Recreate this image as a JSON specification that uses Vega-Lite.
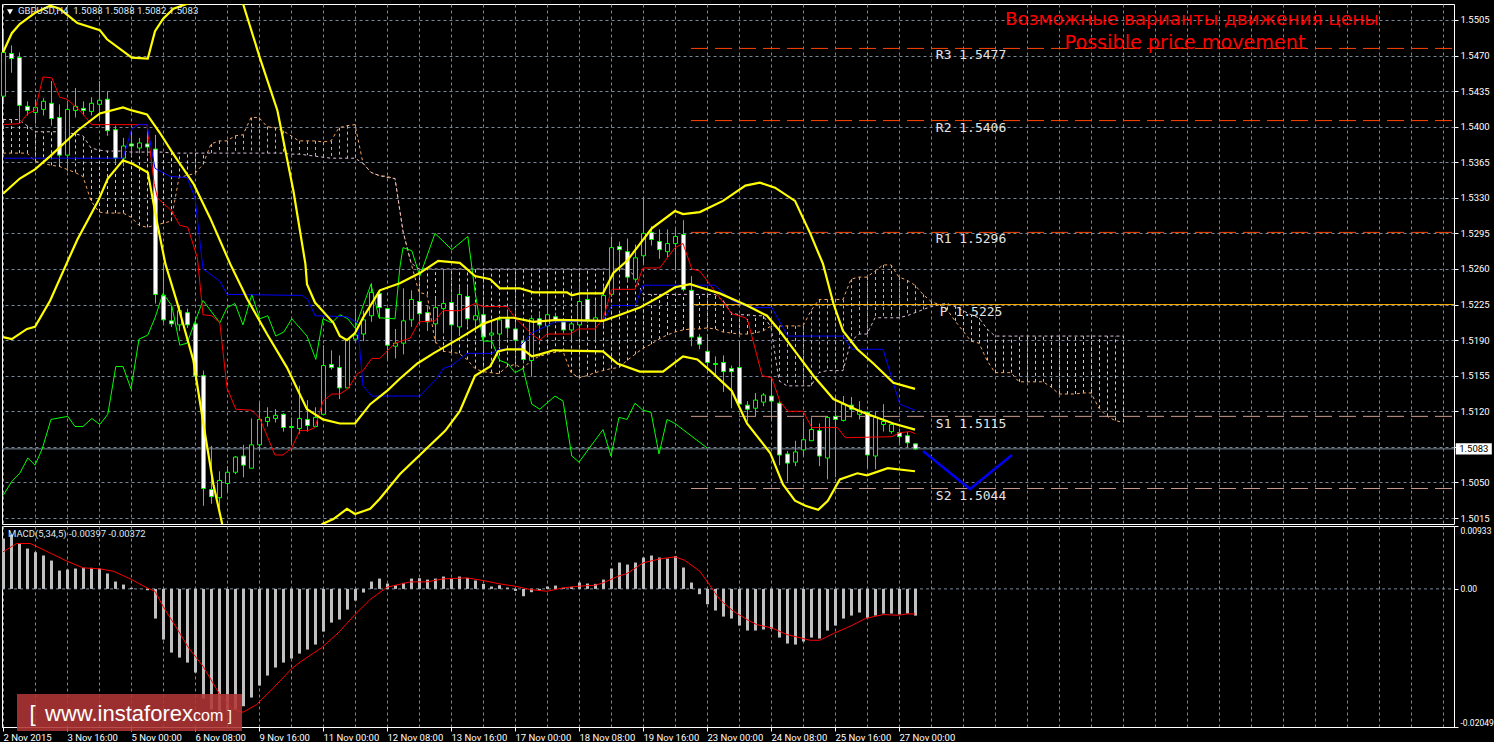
{"$schema":"https://vega.github.io/schema/vega-lite/v6.json","background":"#000000","padding":{"left":0,"top":3,"right":0,"bottom":0},"spacing":0,
"config":{"view":{"stroke":"#ffffff","strokeWidth":1},"axis":{"labelFont":"Roboto","labelFontSize":9.5,"labelColor":"#ffffff","tickColor":"#ffffff","domainColor":"#ffffff","gridColor":"#778899","gridDash":[3,3],"gridWidth":1,"gridOpacity":1,"title":null}},
"datasets":{
"candles":[
{"bar":0,"open":1.5430,"high":1.5496,"low":1.5422,"close":1.5473},{"bar":1,"open":1.5472,"high":1.5480,"low":1.5453,"close":1.5467},{"bar":2,"open":1.5468,"high":1.5473,"low":1.5404,"close":1.5421},{"bar":3,"open":1.5420,"high":1.5425,"low":1.5411,"close":1.5416},{"bar":4,"open":1.5414,"high":1.5427,"low":1.5403,"close":1.5419},{"bar":5,"open":1.5417,"high":1.5428,"low":1.5411,"close":1.5425},{"bar":6,"open":1.5423,"high":1.5445,"low":1.5401,"close":1.5408},{"bar":7,"open":1.5409,"high":1.5422,"low":1.5363,"close":1.5372},{"bar":8,"open":1.5372,"high":1.5423,"low":1.5356,"close":1.5417},{"bar":9,"open":1.5416,"high":1.5438,"low":1.5409,"close":1.5420},
{"bar":10,"open":1.5418,"high":1.5425,"low":1.5411,"close":1.5416},{"bar":11,"open":1.5415,"high":1.5429,"low":1.5411,"close":1.5423},{"bar":12,"open":1.5422,"high":1.5445,"low":1.5406,"close":1.5426},{"bar":13,"open":1.5427,"high":1.5435,"low":1.5391,"close":1.5396},{"bar":14,"open":1.5397,"high":1.5401,"low":1.5363,"close":1.5369},{"bar":15,"open":1.5369,"high":1.5389,"low":1.5361,"close":1.5381},{"bar":16,"open":1.5383,"high":1.5396,"low":1.5371,"close":1.5381},{"bar":17,"open":1.5379,"high":1.5389,"low":1.5374,"close":1.5384},{"bar":18,"open":1.5383,"high":1.5396,"low":1.5371,"close":1.5380},{"bar":19,"open":1.5378,"high":1.5392,"low":1.5226,"close":1.5235},
{"bar":20,"open":1.5234,"high":1.5266,"low":1.5207,"close":1.5210},{"bar":21,"open":1.5209,"high":1.5224,"low":1.5203,"close":1.5206},{"bar":22,"open":1.5205,"high":1.5224,"low":1.5199,"close":1.5219},{"bar":23,"open":1.5217,"high":1.5221,"low":1.5202,"close":1.5205},{"bar":24,"open":1.5206,"high":1.5211,"low":1.5150,"close":1.5155},{"bar":25,"open":1.5155,"high":1.5160,"low":1.5027,"close":1.5044},{"bar":26,"open":1.5043,"high":1.5086,"low":1.5029,"close":1.5036},{"bar":27,"open":1.5035,"high":1.5061,"low":1.5025,"close":1.5052},{"bar":28,"open":1.5049,"high":1.5066,"low":1.5040,"close":1.5060},{"bar":29,"open":1.5060,"high":1.5076,"low":1.5058,"close":1.5075},
{"bar":30,"open":1.5076,"high":1.5087,"low":1.5055,"close":1.5067},{"bar":31,"open":1.5064,"high":1.5113,"low":1.5064,"close":1.5087},{"bar":32,"open":1.5087,"high":1.5128,"low":1.5082,"close":1.5112},{"bar":33,"open":1.5110,"high":1.5124,"low":1.5105,"close":1.5114},{"bar":34,"open":1.5113,"high":1.5122,"low":1.5109,"close":1.5116},{"bar":35,"open":1.5117,"high":1.5118,"low":1.5100,"close":1.5104},{"bar":36,"open":1.5105,"high":1.5114,"low":1.5089,"close":1.5104},{"bar":37,"open":1.5103,"high":1.5145,"low":1.5098,"close":1.5113},{"bar":38,"open":1.5112,"high":1.5131,"low":1.5100,"close":1.5106},{"bar":39,"open":1.5105,"high":1.5124,"low":1.5105,"close":1.5114},
{"bar":40,"open":1.5117,"high":1.5185,"low":1.5117,"close":1.5165},{"bar":41,"open":1.5166,"high":1.5180,"low":1.5161,"close":1.5163},{"bar":42,"open":1.5163,"high":1.5175,"low":1.5132,"close":1.5143},{"bar":43,"open":1.5143,"high":1.5191,"low":1.5143,"close":1.5191},{"bar":44,"open":1.5191,"high":1.5221,"low":1.5189,"close":1.5195},{"bar":45,"open":1.5196,"high":1.5219,"low":1.5189,"close":1.5210},{"bar":46,"open":1.5214,"high":1.5246,"low":1.5208,"close":1.5237},{"bar":47,"open":1.5236,"high":1.5239,"low":1.5211,"close":1.5222},{"bar":48,"open":1.5221,"high":1.5221,"low":1.5171,"close":1.5185},{"bar":49,"open":1.5184,"high":1.5201,"low":1.5172,"close":1.5187},
{"bar":50,"open":1.5187,"high":1.5241,"low":1.5176,"close":1.5209},{"bar":51,"open":1.5210,"high":1.5239,"low":1.5203,"close":1.5230},{"bar":52,"open":1.5228,"high":1.5239,"low":1.5207,"close":1.5216},{"bar":53,"open":1.5217,"high":1.5224,"low":1.5199,"close":1.5208},{"bar":54,"open":1.5206,"high":1.5231,"low":1.5187,"close":1.5222},{"bar":55,"open":1.5221,"high":1.5260,"low":1.5197,"close":1.5226},{"bar":56,"open":1.5227,"high":1.5235,"low":1.5189,"close":1.5205},{"bar":57,"open":1.5203,"high":1.5243,"low":1.5194,"close":1.5235},{"bar":58,"open":1.5233,"high":1.5243,"low":1.5204,"close":1.5211},{"bar":59,"open":1.5210,"high":1.5224,"low":1.5199,"close":1.5214},
{"bar":60,"open":1.5215,"high":1.5229,"low":1.5179,"close":1.5193},{"bar":61,"open":1.5195,"high":1.5207,"low":1.5184,"close":1.5197},{"bar":62,"open":1.5196,"high":1.5214,"low":1.5184,"close":1.5210},{"bar":63,"open":1.5211,"high":1.5219,"low":1.5192,"close":1.5202},{"bar":64,"open":1.5201,"high":1.5207,"low":1.5184,"close":1.5190},{"bar":65,"open":1.5189,"high":1.5192,"low":1.5167,"close":1.5171},{"bar":66,"open":1.5170,"high":1.5214,"low":1.5154,"close":1.5211},{"bar":67,"open":1.5211,"high":1.5217,"low":1.5197,"close":1.5205},{"bar":68,"open":1.5204,"high":1.5236,"low":1.5194,"close":1.5215},{"bar":69,"open":1.5213,"high":1.5217,"low":1.5207,"close":1.5210},
{"bar":70,"open":1.5208,"high":1.5211,"low":1.5197,"close":1.5200},{"bar":71,"open":1.5200,"high":1.5211,"low":1.5189,"close":1.5206},{"bar":72,"open":1.5205,"high":1.5246,"low":1.5194,"close":1.5228},{"bar":73,"open":1.5230,"high":1.5235,"low":1.5207,"close":1.5210},{"bar":74,"open":1.5209,"high":1.5229,"low":1.5189,"close":1.5212},{"bar":75,"open":1.5210,"high":1.5243,"low":1.5204,"close":1.5234},{"bar":76,"open":1.5235,"high":1.5292,"low":1.5233,"close":1.5281},{"bar":77,"open":1.5282,"high":1.5287,"low":1.5263,"close":1.5279},{"bar":78,"open":1.5277,"high":1.5290,"low":1.5248,"close":1.5252},{"bar":79,"open":1.5250,"high":1.5284,"low":1.5247,"close":1.5271},
{"bar":80,"open":1.5273,"high":1.5331,"low":1.5265,"close":1.5295},{"bar":81,"open":1.5296,"high":1.5302,"low":1.5283,"close":1.5289},{"bar":82,"open":1.5287,"high":1.5299,"low":1.5270,"close":1.5279},{"bar":83,"open":1.5277,"high":1.5299,"low":1.5271,"close":1.5285},{"bar":84,"open":1.5285,"high":1.5299,"low":1.5260,"close":1.5292},{"bar":85,"open":1.5294,"high":1.5308,"low":1.5238,"close":1.5240},{"bar":86,"open":1.5239,"high":1.5253,"low":1.5184,"close":1.5193},{"bar":87,"open":1.5193,"high":1.5196,"low":1.5181,"close":1.5186},{"bar":88,"open":1.5179,"high":1.5196,"low":1.5160,"close":1.5168},{"bar":89,"open":1.5167,"high":1.5174,"low":1.5155,"close":1.5166},
{"bar":90,"open":1.5168,"high":1.5175,"low":1.5139,"close":1.5159},{"bar":91,"open":1.5162,"high":1.5165,"low":1.5123,"close":1.5159},{"bar":92,"open":1.5163,"high":1.5189,"low":1.5127,"close":1.5127},{"bar":93,"open":1.5126,"high":1.5130,"low":1.5110,"close":1.5122},{"bar":94,"open":1.5123,"high":1.5138,"low":1.5115,"close":1.5131},{"bar":95,"open":1.5129,"high":1.5138,"low":1.5125,"close":1.5136},{"bar":96,"open":1.5135,"high":1.5152,"low":1.5112,"close":1.5130},{"bar":97,"open":1.5128,"high":1.5130,"low":1.5067,"close":1.5077},{"bar":98,"open":1.5078,"high":1.5081,"low":1.5051,"close":1.5069},{"bar":99,"open":1.5070,"high":1.5091,"low":1.5066,"close":1.5080},
{"bar":100,"open":1.5082,"high":1.5110,"low":1.5076,"close":1.5092},{"bar":101,"open":1.5091,"high":1.5114,"low":1.5091,"close":1.5102},{"bar":102,"open":1.5101,"high":1.5108,"low":1.5066,"close":1.5076},{"bar":103,"open":1.5074,"high":1.5115,"low":1.5053,"close":1.5114},{"bar":104,"open":1.5115,"high":1.5135,"low":1.5055,"close":1.5112},{"bar":105,"open":1.5111,"high":1.5135,"low":1.5110,"close":1.5127},{"bar":106,"open":1.5126,"high":1.5134,"low":1.5114,"close":1.5122},{"bar":107,"open":1.5117,"high":1.5130,"low":1.5112,"close":1.5121},{"bar":108,"open":1.5119,"high":1.5120,"low":1.5064,"close":1.5077},{"bar":109,"open":1.5076,"high":1.5120,"low":1.5063,"close":1.5114},
{"bar":110,"open":1.5107,"high":1.5127,"low":1.5100,"close":1.5110},{"bar":111,"open":1.5100,"high":1.5109,"low":1.5098,"close":1.5107},{"bar":112,"open":1.5099,"high":1.5103,"low":1.5089,"close":1.5095},{"bar":113,"open":1.5096,"high":1.5100,"low":1.5084,"close":1.5089},{"bar":114,"open":1.5088,"high":1.5088,"low":1.5082,"close":1.5083}
],
"cloud":[
{"bar":0,"a":1.5374,"b":1.5407},{"bar":1,"a":1.5374,"b":1.5407},{"bar":2,"a":1.5374,"b":1.5407},{"bar":3,"a":1.5374,"b":1.5401},{"bar":4,"a":1.5366,"b":1.5395},{"bar":5,"a":1.5364,"b":1.5395},{"bar":6,"a":1.5362,"b":1.5395},{"bar":7,"a":1.5361,"b":1.5395},{"bar":8,"a":1.5358,"b":1.5394},{"bar":9,"a":1.5355,"b":1.5393},{"bar":10,"a":1.5351,"b":1.5391},{"bar":11,"a":1.5327,"b":1.5379},{"bar":12,"a":1.5316,"b":1.5377},{"bar":13,"a":1.5315,"b":1.5376},{"bar":14,"a":1.5315,"b":1.5376},{"bar":15,"a":1.5315,"b":1.5376},{"bar":16,"a":1.5311,"b":1.5375},{"bar":17,"a":1.5303,"b":1.5375},{"bar":18,"a":1.5301,"b":1.5375},{"bar":19,"a":1.5303,"b":1.5375},{"bar":20,"a":1.5305,"b":1.5375},{"bar":21,"a":1.5307,"b":1.5374},{"bar":22,"a":1.5350,"b":1.5374},{"bar":23,"a":1.5352,"b":1.5374},{"bar":24,"a":1.5354,"b":1.5374},{"bar":25,"a":1.5363,"b":1.5374},{"bar":26,"a":1.5383,"b":1.5374},{"bar":27,"a":1.5386,"b":1.5374},{"bar":28,"a":1.5386,"b":1.5374},{"bar":29,"a":1.5391,"b":1.5374},{"bar":30,"a":1.5392,"b":1.5374},{"bar":31,"a":1.5409,"b":1.5374},{"bar":32,"a":1.5409,"b":1.5374},{"bar":33,"a":1.5400,"b":1.5374},{"bar":34,"a":1.5399,"b":1.5374},{"bar":35,"a":1.5396,"b":1.5374},{"bar":36,"a":1.5391,"b":1.5373},{"bar":37,"a":1.5386,"b":1.5373},{"bar":38,"a":1.5386,"b":1.5372},{"bar":39,"a":1.5386,"b":1.5371},{"bar":40,"a":1.5385,"b":1.5370},{"bar":41,"a":1.5386,"b":1.5369},{"bar":42,"a":1.5399,"b":1.5369},{"bar":43,"a":1.5401,"b":1.5369},{"bar":44,"a":1.5402,"b":1.5369},{"bar":45,"a":1.5364,"b":1.5364},{"bar":46,"a":1.5355,"b":1.5355},{"bar":47,"a":1.5352,"b":1.5352},{"bar":48,"a":1.5351,"b":1.5350},{"bar":49,"a":1.5349,"b":1.5349},{"bar":50,"a":1.5297,"b":1.5297},{"bar":51,"a":1.5266,"b":1.5266},{"bar":52,"a":1.5237,"b":1.5260},{"bar":53,"a":1.5235,"b":1.5260},{"bar":54,"a":1.5189,"b":1.5260},{"bar":55,"a":1.5179,"b":1.5260},{"bar":56,"a":1.5178,"b":1.5260},{"bar":57,"a":1.5177,"b":1.5260},{"bar":58,"a":1.5171,"b":1.5260},{"bar":59,"a":1.5162,"b":1.5260},{"bar":60,"a":1.5159,"b":1.5260},{"bar":61,"a":1.5158,"b":1.5260},{"bar":62,"a":1.5157,"b":1.5260},{"bar":63,"a":1.5164,"b":1.5260},{"bar":64,"a":1.5166,"b":1.5260},{"bar":65,"a":1.5162,"b":1.5260},{"bar":66,"a":1.5170,"b":1.5260},{"bar":67,"a":1.5174,"b":1.5260},{"bar":68,"a":1.5176,"b":1.5260},{"bar":69,"a":1.5178,"b":1.5260},{"bar":70,"a":1.5179,"b":1.5260},{"bar":71,"a":1.5158,"b":1.5260},{"bar":72,"a":1.5153,"b":1.5260},{"bar":73,"a":1.5155,"b":1.5260},{"bar":74,"a":1.5158,"b":1.5260},{"bar":75,"a":1.5160,"b":1.5260},{"bar":76,"a":1.5162,"b":1.5260},{"bar":77,"a":1.5163,"b":1.5260},{"bar":78,"a":1.5170,"b":1.5260},{"bar":79,"a":1.5176,"b":1.5253},{"bar":80,"a":1.5182,"b":1.5235},{"bar":81,"a":1.5186,"b":1.5235},{"bar":82,"a":1.5191,"b":1.5235},{"bar":83,"a":1.5195,"b":1.5235},{"bar":84,"a":1.5198,"b":1.5235},{"bar":85,"a":1.5200,"b":1.5235},{"bar":86,"a":1.5201,"b":1.5235},{"bar":87,"a":1.5201,"b":1.5235},{"bar":88,"a":1.5202,"b":1.5235},{"bar":89,"a":1.5201,"b":1.5235},{"bar":90,"a":1.5198,"b":1.5229},{"bar":91,"a":1.5197,"b":1.5217},{"bar":92,"a":1.5196,"b":1.5215},{"bar":93,"a":1.5196,"b":1.5215},{"bar":94,"a":1.5197,"b":1.5214},{"bar":95,"a":1.5199,"b":1.5214},{"bar":96,"a":1.5204,"b":1.5203},{"bar":97,"a":1.5204,"b":1.5150},{"bar":98,"a":1.5204,"b":1.5145},{"bar":99,"a":1.5204,"b":1.5145},{"bar":100,"a":1.5204,"b":1.5145},{"bar":101,"a":1.5219,"b":1.5145},{"bar":102,"a":1.5230,"b":1.5158},{"bar":103,"a":1.5230,"b":1.5160},{"bar":104,"a":1.5230,"b":1.5160},{"bar":105,"a":1.5230,"b":1.5160},{"bar":106,"a":1.5250,"b":1.5189},{"bar":107,"a":1.5252,"b":1.5196},{"bar":108,"a":1.5252,"b":1.5196},{"bar":109,"a":1.5258,"b":1.5212},{"bar":110,"a":1.5264,"b":1.5212},{"bar":111,"a":1.5264,"b":1.5212},{"bar":112,"a":1.5252,"b":1.5212},{"bar":113,"a":1.5249,"b":1.5214},{"bar":114,"a":1.5244,"b":1.5217},{"bar":115,"a":1.5235,"b":1.5220},{"bar":116,"a":1.5228,"b":1.5223},{"bar":117,"a":1.5225,"b":1.5225},{"bar":118,"a":1.5220,"b":1.5226},{"bar":119,"a":1.5209,"b":1.5223},{"bar":120,"a":1.5199,"b":1.5219},{"bar":121,"a":1.5189,"b":1.5215},{"bar":122,"a":1.5187,"b":1.5212},{"bar":123,"a":1.5170,"b":1.5201},{"bar":124,"a":1.5158,"b":1.5194},{"bar":125,"a":1.5158,"b":1.5194},{"bar":126,"a":1.5158,"b":1.5194},{"bar":127,"a":1.5149,"b":1.5194},{"bar":128,"a":1.5149,"b":1.5194},{"bar":129,"a":1.5149,"b":1.5194},{"bar":130,"a":1.5149,"b":1.5194},{"bar":131,"a":1.5144,"b":1.5194},{"bar":132,"a":1.5137,"b":1.5194},{"bar":133,"a":1.5137,"b":1.5194},{"bar":134,"a":1.5137,"b":1.5194},{"bar":135,"a":1.5138,"b":1.5194},{"bar":136,"a":1.5138,"b":1.5194},{"bar":137,"a":1.5123,"b":1.5194},{"bar":138,"a":1.5115,"b":1.5194},{"bar":139,"a":1.5111,"b":1.5194},{"bar":140,"a":1.5109,"b":1.5194}
],
"upper":[{"bar":0,"price":1.5473},{"bar":1.1,"price":1.5492},{"bar":2.1,"price":1.5501},{"bar":4,"price":1.5512},{"bar":5.9,"price":1.5519},{"bar":7.1,"price":1.5516},{"bar":9.3,"price":1.5502},{"bar":12.1,"price":1.5495},{"bar":13,"price":1.5486},{"bar":16.1,"price":1.5468},{"bar":18.1,"price":1.5467},{"bar":19,"price":1.5494},{"bar":20,"price":1.5506},{"bar":21.3,"price":1.5516},{"bar":23.1,"price":1.5521},{"bar":26.5,"price":1.5563},{"bar":30,"price":1.5521},{"bar":32.1,"price":1.5468},{"bar":34.3,"price":1.5416},{"bar":36.3,"price":1.5337},{"bar":37.8,"price":1.5265},{"bar":38,"price":1.5245},{"bar":39,"price":1.5227},{"bar":41.3,"price":1.5207},{"bar":42.1,"price":1.5194},{"bar":43,"price":1.5190},{"bar":44,"price":1.5197},{"bar":45,"price":1.5212},{"bar":47.1,"price":1.5239},{"bar":49.6,"price":1.5246},{"bar":52.1,"price":1.5256},{"bar":54.4,"price":1.5268},{"bar":57.1,"price":1.5266},{"bar":59,"price":1.5253},{"bar":60.9,"price":1.5250},{"bar":62.1,"price":1.5241},{"bar":64.6,"price":1.5241},{"bar":66.3,"price":1.5237},{"bar":70.5,"price":1.5237},{"bar":71.1,"price":1.5234},{"bar":72.1,"price":1.5236},{"bar":75,"price":1.5236},{"bar":76.3,"price":1.5256},{"bar":78,"price":1.5268},{"bar":81.1,"price":1.5300},{"bar":84,"price":1.5317},{"bar":85,"price":1.5314},{"bar":87.1,"price":1.5316},{"bar":90,"price":1.5327},{"bar":92.8,"price":1.5342},{"bar":94.6,"price":1.5345},{"bar":96.5,"price":1.5340},{"bar":99,"price":1.5327},{"bar":100.9,"price":1.5295},{"bar":102.5,"price":1.5265},{"bar":103.8,"price":1.5226},{"bar":105,"price":1.5199},{"bar":106.8,"price":1.5181},{"bar":108.8,"price":1.5167},{"bar":111.3,"price":1.5148},{"bar":114,"price":1.5142}],
"middle":[{"bar":0,"price":1.5334},{"bar":2.1,"price":1.5349},{"bar":4,"price":1.5358},{"bar":5.9,"price":1.5371},{"bar":9.3,"price":1.5396},{"bar":12.1,"price":1.5413},{"bar":15,"price":1.5419},{"bar":16.1,"price":1.5416},{"bar":18,"price":1.5412},{"bar":19.6,"price":1.5394},{"bar":21.3,"price":1.5373},{"bar":23.8,"price":1.5344},{"bar":25.9,"price":1.5310},{"bar":28.4,"price":1.5265},{"bar":30.5,"price":1.5231},{"bar":33,"price":1.5196},{"bar":35.5,"price":1.5163},{"bar":38,"price":1.5122},{"bar":40,"price":1.5112},{"bar":42.1,"price":1.5108},{"bar":44,"price":1.5108},{"bar":45.9,"price":1.5127},{"bar":48,"price":1.5140},{"bar":49.6,"price":1.5152},{"bar":51.8,"price":1.5167},{"bar":53.8,"price":1.5177},{"bar":57.1,"price":1.5192},{"bar":60,"price":1.5206},{"bar":62.1,"price":1.5212},{"bar":63.8,"price":1.5212},{"bar":66.3,"price":1.5208},{"bar":69.3,"price":1.5210},{"bar":75,"price":1.5209},{"bar":76.8,"price":1.5214},{"bar":79.6,"price":1.5222},{"bar":82.1,"price":1.5233},{"bar":84,"price":1.5242},{"bar":85.9,"price":1.5245},{"bar":87.1,"price":1.5242},{"bar":89.6,"price":1.5236},{"bar":93,"price":1.5224},{"bar":95.5,"price":1.5214},{"bar":97.1,"price":1.5199},{"bar":99.3,"price":1.5176},{"bar":101.3,"price":1.5155},{"bar":103.8,"price":1.5132},{"bar":107.1,"price":1.5120},{"bar":111.3,"price":1.5108},{"bar":114,"price":1.5102}],
"lower":[{"bar":0,"price":1.5193},{"bar":1.1,"price":1.5191},{"bar":3,"price":1.5201},{"bar":4,"price":1.5203},{"bar":5.9,"price":1.5229},{"bar":8.1,"price":1.5268},{"bar":9.3,"price":1.5289},{"bar":11.9,"price":1.5327},{"bar":13.1,"price":1.5349},{"bar":15,"price":1.5367},{"bar":16.3,"price":1.5363},{"bar":18.1,"price":1.5355},{"bar":19.3,"price":1.5304},{"bar":20.3,"price":1.5265},{"bar":21.8,"price":1.5226},{"bar":23.8,"price":1.5170},{"bar":25,"price":1.5110},{"bar":26.3,"price":1.5048},{"bar":27.4,"price":1.5009},{"bar":30.9,"price":1.4943},{"bar":35.9,"price":1.4933},{"bar":39.9,"price":1.5009},{"bar":41.3,"price":1.5014},{"bar":43,"price":1.5024},{"bar":44,"price":1.5019},{"bar":45.9,"price":1.5024},{"bar":47.1,"price":1.5034},{"bar":49.6,"price":1.5058},{"bar":55.3,"price":1.5101},{"bar":57.1,"price":1.5120},{"bar":59,"price":1.5155},{"bar":60.9,"price":1.5164},{"bar":61.9,"price":1.5179},{"bar":63,"price":1.5181},{"bar":65,"price":1.5181},{"bar":66.1,"price":1.5174},{"bar":67.1,"price":1.5176},{"bar":68.8,"price":1.5180},{"bar":75,"price":1.5179},{"bar":76.8,"price":1.5167},{"bar":79.6,"price":1.5159},{"bar":82.5,"price":1.5159},{"bar":85,"price":1.5174},{"bar":86.8,"price":1.5171},{"bar":88.8,"price":1.5157},{"bar":91.1,"price":1.5140},{"bar":93,"price":1.5108},{"bar":95.9,"price":1.5079},{"bar":97.5,"price":1.5048},{"bar":99,"price":1.5032},{"bar":100.3,"price":1.5027},{"bar":101.9,"price":1.5023},{"bar":103.1,"price":1.5032},{"bar":104.6,"price":1.5053},{"bar":106.8,"price":1.5059},{"bar":108,"price":1.5057},{"bar":110.6,"price":1.5064},{"bar":114,"price":1.5061}],
"tenkan":[{"bar":0,"price":1.5402},{"bar":2.1,"price":1.5403},{"bar":3.1,"price":1.5413},{"bar":4,"price":1.5416},{"bar":5,"price":1.5449},{"bar":6.1,"price":1.5448},{"bar":7.1,"price":1.5429},{"bar":8,"price":1.5427},{"bar":9.6,"price":1.5416},{"bar":11.1,"price":1.5402},{"bar":18,"price":1.5402},{"bar":18.5,"price":1.5369},{"bar":18.9,"price":1.5344},{"bar":19.3,"price":1.5330},{"bar":21.1,"price":1.5317},{"bar":22.1,"price":1.5303},{"bar":23.1,"price":1.5301},{"bar":24.3,"price":1.5271},{"bar":25,"price":1.5215},{"bar":26.1,"price":1.5214},{"bar":27.1,"price":1.5207},{"bar":28,"price":1.5143},{"bar":29.1,"price":1.5122},{"bar":31.1,"price":1.5121},{"bar":32.1,"price":1.5113},{"bar":34,"price":1.5077},{"bar":35,"price":1.5077},{"bar":36.1,"price":1.5084},{"bar":37.1,"price":1.5101},{"bar":38.1,"price":1.5101},{"bar":39,"price":1.5104},{"bar":40,"price":1.5130},{"bar":41.1,"price":1.5137},{"bar":42.1,"price":1.5137},{"bar":43.1,"price":1.5142},{"bar":44.3,"price":1.5157},{"bar":45,"price":1.5160},{"bar":46.1,"price":1.5172},{"bar":47.1,"price":1.5172},{"bar":49,"price":1.5187},{"bar":50.9,"price":1.5192},{"bar":52,"price":1.5208},{"bar":54,"price":1.5209},{"bar":55,"price":1.5219},{"bar":57.1,"price":1.5219},{"bar":59,"price":1.5226},{"bar":60,"price":1.5223},{"bar":63,"price":1.5223},{"bar":64,"price":1.5212},{"bar":66.1,"price":1.5196},{"bar":67.1,"price":1.5190},{"bar":68,"price":1.5196},{"bar":70.9,"price":1.5196},{"bar":71.9,"price":1.5201},{"bar":74,"price":1.5201},{"bar":75,"price":1.5211},{"bar":76.1,"price":1.5240},{"bar":79,"price":1.5240},{"bar":80,"price":1.5261},{"bar":82.1,"price":1.5261},{"bar":84,"price":1.5281},{"bar":85,"price":1.5285},{"bar":86.1,"price":1.5260},{"bar":87.1,"price":1.5258},{"bar":89,"price":1.5238},{"bar":91.1,"price":1.5216},{"bar":92.8,"price":1.5212},{"bar":93.1,"price":1.5209},{"bar":94.9,"price":1.5155},{"bar":96.1,"price":1.5153},{"bar":97.1,"price":1.5130},{"bar":98.1,"price":1.5120},{"bar":100,"price":1.5120},{"bar":101.1,"price":1.5104},{"bar":104.3,"price":1.5104},{"bar":105.3,"price":1.5094},{"bar":111.1,"price":1.5095},{"bar":112.1,"price":1.5099},{"bar":113.4,"price":1.5100},{"bar":114,"price":1.5098}],
"kijun":[{"bar":0,"price":1.5369},{"bar":15,"price":1.5369},{"bar":16.1,"price":1.5398},{"bar":16.9,"price":1.5402},{"bar":18,"price":1.5402},{"bar":19,"price":1.5359},{"bar":20.9,"price":1.5351},{"bar":23,"price":1.5350},{"bar":24,"price":1.5330},{"bar":25,"price":1.5260},{"bar":27.1,"price":1.5248},{"bar":28,"price":1.5235},{"bar":37.4,"price":1.5234},{"bar":38.1,"price":1.5230},{"bar":39,"price":1.5214},{"bar":43,"price":1.5213},{"bar":44.3,"price":1.5207},{"bar":45,"price":1.5145},{"bar":46.1,"price":1.5135},{"bar":52.1,"price":1.5135},{"bar":54.3,"price":1.5153},{"bar":55,"price":1.5162},{"bar":56.1,"price":1.5165},{"bar":58,"price":1.5177},{"bar":61.1,"price":1.5177},{"bar":62.1,"price":1.5181},{"bar":64.3,"price":1.5181},{"bar":66.1,"price":1.5197},{"bar":69,"price":1.5208},{"bar":75,"price":1.5209},{"bar":76.1,"price":1.5224},{"bar":79,"price":1.5224},{"bar":80,"price":1.5244},{"bar":89,"price":1.5244},{"bar":91.1,"price":1.5229},{"bar":93.4,"price":1.5222},{"bar":96.1,"price":1.5222},{"bar":98.1,"price":1.5194},{"bar":105,"price":1.5194},{"bar":106.1,"price":1.5181},{"bar":110,"price":1.5181},{"bar":112.1,"price":1.5127},{"bar":114,"price":1.5121}],
"chikou":[{"bar":0,"price":1.5037},{"bar":1.1,"price":1.5051},{"bar":2.1,"price":1.5059},{"bar":3.1,"price":1.5074},{"bar":4,"price":1.5067},{"bar":4.9,"price":1.5083},{"bar":6,"price":1.5112},{"bar":8.1,"price":1.5115},{"bar":9,"price":1.5105},{"bar":10,"price":1.5105},{"bar":11.1,"price":1.5113},{"bar":12.1,"price":1.5107},{"bar":13.1,"price":1.5117},{"bar":14.1,"price":1.5164},{"bar":15,"price":1.5164},{"bar":16,"price":1.5142},{"bar":17,"price":1.5191},{"bar":18.1,"price":1.5195},{"bar":19,"price":1.5212},{"bar":20,"price":1.5236},{"bar":21.1,"price":1.5224},{"bar":22.1,"price":1.5185},{"bar":23,"price":1.5187},{"bar":25,"price":1.5229},{"bar":27.1,"price":1.5207},{"bar":28,"price":1.5222},{"bar":29,"price":1.5226},{"bar":30,"price":1.5205},{"bar":31.1,"price":1.5235},{"bar":32.1,"price":1.5211},{"bar":33.1,"price":1.5214},{"bar":34.1,"price":1.5194},{"bar":35.1,"price":1.5198},{"bar":36.1,"price":1.5211},{"bar":38,"price":1.5194},{"bar":39.1,"price":1.5171},{"bar":40,"price":1.5211},{"bar":41.1,"price":1.5207},{"bar":42.1,"price":1.5215},{"bar":43.1,"price":1.5211},{"bar":44,"price":1.5202},{"bar":46,"price":1.5245},{"bar":47,"price":1.5212},{"bar":49,"price":1.5211},{"bar":49.6,"price":1.5261},{"bar":50,"price":1.5281},{"bar":51.1,"price":1.5278},{"bar":52.1,"price":1.5253},{"bar":54,"price":1.5295},{"bar":56.1,"price":1.5279},{"bar":58.1,"price":1.5292},{"bar":59,"price":1.5238},{"bar":60,"price":1.5189},{"bar":61.1,"price":1.5189},{"bar":62.1,"price":1.5170},{"bar":63.1,"price":1.5167},{"bar":64,"price":1.5158},{"bar":65,"price":1.5162},{"bar":66.1,"price":1.5127},{"bar":67.1,"price":1.5122},{"bar":69,"price":1.5135},{"bar":70,"price":1.5130},{"bar":71.1,"price":1.5076},{"bar":72,"price":1.5070},{"bar":75,"price":1.5102},{"bar":76,"price":1.5076},{"bar":77,"price":1.5114},{"bar":78,"price":1.5112},{"bar":79,"price":1.5128},{"bar":80,"price":1.5121},{"bar":81,"price":1.5119},{"bar":82,"price":1.5078},{"bar":83,"price":1.5112},{"bar":84,"price":1.5108},{"bar":88,"price":1.5084}],
"macd":[{"bar":0,"macd":0.00747},{"bar":1,"macd":0.00806},{"bar":2,"macd":0.00673},{"bar":3,"macd":0.00598},{"bar":4,"macd":0.00544},{"bar":5,"macd":0.00495},{"bar":6,"macd":0.00420},{"bar":7,"macd":0.00272},{"bar":8,"macd":0.00287},{"bar":9,"macd":0.00302},{"bar":10,"macd":0.00312},{"bar":11,"macd":0.00312},{"bar":12,"macd":0.00302},{"bar":13,"macd":0.00228},{"bar":14,"macd":0.00109},{"bar":15,"macd":0.00064},{"bar":16,"macd":0.00015},{"bar":17,"macd":0.00002},{"bar":18,"macd":-0.00020},{"bar":19,"macd":-0.00440},{"bar":20,"macd":-0.00752},{"bar":21,"macd":-0.00945},{"bar":22,"macd":-0.01019},{"bar":23,"macd":-0.01093},{"bar":24,"macd":-0.01241},{"bar":25,"macd":-0.01627},{"bar":26,"macd":-0.01790},{"bar":27,"macd":-0.01815},{"bar":28,"macd":-0.01815},{"bar":29,"macd":-0.01790},{"bar":30,"macd":-0.01741},{"bar":31,"macd":-0.01612},{"bar":32,"macd":-0.01434},{"bar":33,"macd":-0.01286},{"bar":34,"macd":-0.01167},{"bar":35,"macd":-0.01093},{"bar":36,"macd":-0.01034},{"bar":37,"macd":-0.00960},{"bar":38,"macd":-0.00900},{"bar":39,"macd":-0.00826},{"bar":40,"macd":-0.00633},{"bar":41,"macd":-0.00500},{"bar":42,"macd":-0.00455},{"bar":43,"macd":-0.00307},{"bar":44,"macd":-0.00173},{"bar":45,"macd":-0.00054},{"bar":46,"macd":0.00109},{"bar":47,"macd":0.00153},{"bar":48,"macd":0.00079},{"bar":49,"macd":0.00054},{"bar":50,"macd":0.00089},{"bar":51,"macd":0.00153},{"bar":52,"macd":0.00158},{"bar":53,"macd":0.00138},{"bar":54,"macd":0.00153},{"bar":55,"macd":0.00183},{"bar":56,"macd":0.00153},{"bar":57,"macd":0.00183},{"bar":58,"macd":0.00163},{"bar":59,"macd":0.00124},{"bar":60,"macd":0.00074},{"bar":61,"macd":0.00035},{"bar":62,"macd":0.00054},{"bar":63,"macd":0.00020},{"bar":64,"macd":-0.00030},{"bar":65,"macd":-0.00109},{"bar":66,"macd":-0.00049},{"bar":67,"macd":-0.00025},{"bar":68,"macd":0.00035},{"bar":69,"macd":0.00049},{"bar":70,"macd":0.00015},{"bar":71,"macd":0.00030},{"bar":72,"macd":0.00094},{"bar":73,"macd":0.00079},{"bar":74,"macd":0.00074},{"bar":75,"macd":0.00138},{"bar":76,"macd":0.00302},{"bar":77,"macd":0.00391},{"bar":78,"macd":0.00361},{"bar":79,"macd":0.00391},{"bar":80,"macd":0.00465},{"bar":81,"macd":0.00495},{"bar":82,"macd":0.00465},{"bar":83,"macd":0.00450},{"bar":84,"macd":0.00485},{"bar":85,"macd":0.00317},{"bar":86,"macd":0.00094},{"bar":87,"macd":-0.00079},{"bar":88,"macd":-0.00228},{"bar":89,"macd":-0.00321},{"bar":90,"macd":-0.00411},{"bar":91,"macd":-0.00440},{"bar":92,"macd":-0.00544},{"bar":93,"macd":-0.00618},{"bar":94,"macd":-0.00618},{"bar":95,"macd":-0.00603},{"bar":96,"macd":-0.00594},{"bar":97,"macd":-0.00722},{"bar":98,"macd":-0.00811},{"bar":99,"macd":-0.00826},{"bar":100,"macd":-0.00781},{"bar":101,"macd":-0.00722},{"bar":102,"macd":-0.00737},{"bar":103,"macd":-0.00618},{"bar":104,"macd":-0.00544},{"bar":105,"macd":-0.00440},{"bar":106,"macd":-0.00396},{"bar":107,"macd":-0.00351},{"bar":108,"macd":-0.00430},{"bar":109,"macd":-0.00396},{"bar":110,"macd":-0.00366},{"bar":111,"macd":-0.00366},{"bar":112,"macd":-0.00381},{"bar":113,"macd":-0.00366},{"bar":114,"macd":-0.00397}],
"signal":[{"bar":0,"macd":0.00549},{"bar":1.7,"macd":0.00673},{"bar":3.4,"macd":0.00673},{"bar":5,"macd":0.00584},{"bar":8,"macd":0.00411},{"bar":10,"macd":0.00312},{"bar":12.1,"macd":0.00297},{"bar":13.8,"macd":0.00262},{"bar":16.1,"macd":0.00138},{"bar":18,"macd":0.00015},{"bar":19,"macd":-0.00035},{"bar":20,"macd":-0.00257},{"bar":21.7,"macd":-0.00579},{"bar":23.2,"macd":-0.00875},{"bar":25,"macd":-0.01147},{"bar":27.1,"macd":-0.01568},{"bar":28.8,"macd":-0.01790},{"bar":30,"macd":-0.01830},{"bar":31.7,"macd":-0.01716},{"bar":33.8,"macd":-0.01469},{"bar":36.1,"macd":-0.01182},{"bar":37.3,"macd":-0.01073},{"bar":39.8,"macd":-0.00875},{"bar":41.9,"macd":-0.00653},{"bar":44,"macd":-0.00381},{"bar":45.9,"macd":-0.00158},{"bar":48,"macd":0.00025},{"bar":50.9,"macd":0.00104},{"bar":53,"macd":0.00104},{"bar":55,"macd":0.00148},{"bar":58,"macd":0.00163},{"bar":60,"macd":0.00124},{"bar":62.1,"macd":0.00074},{"bar":64,"macd":0.00040},{"bar":65.9,"macd":-0.00010},{"bar":68,"macd":-0.00035},{"bar":70,"macd":0.00015},{"bar":71.9,"macd":0.00040},{"bar":74,"macd":0.00054},{"bar":75,"macd":0.00089},{"bar":76.9,"macd":0.00188},{"bar":78,"macd":0.00228},{"bar":80,"macd":0.00386},{"bar":82.1,"macd":0.00445},{"bar":84,"macd":0.00475},{"bar":85.2,"macd":0.00425},{"bar":87.1,"macd":0.00262},{"bar":88,"macd":0.00114},{"bar":89.6,"macd":-0.00158},{"bar":91.3,"macd":-0.00331},{"bar":93,"macd":-0.00455},{"bar":94.2,"macd":-0.00529},{"bar":96.1,"macd":-0.00579},{"bar":98,"macd":-0.00678},{"bar":100.9,"macd":-0.00762},{"bar":102.1,"macd":-0.00762},{"bar":103.8,"macd":-0.00663},{"bar":105.9,"macd":-0.00554},{"bar":107.8,"macd":-0.00440},{"bar":110,"macd":-0.00381},{"bar":111.9,"macd":-0.00391},{"bar":113,"macd":-0.00371},{"bar":114,"macd":-0.00372}]
},
"vconcat":[
{"width":1452,"height":520,
"encoding":{
"x":{"field":"bar","type":"quantitative","scale":{"domain":[-0.125,181.375],"nice":false,"zero":false,"padding":0},"axis":{"values":[0,4,8,12,16,20,24,28,32,36,40,44,48,52,56,60,64,68,72,76,80,84,88,92,96,100,104,108,112,116,120,124,128,132,136,140,144,148,152,156,160,164,168,172,176,180],"labels":false,"ticks":false,"domain":false,"grid":true}},
"y":{"field":"price","type":"quantitative","scale":{"domain":[1.50091,1.55207],"nice":false,"zero":false,"padding":0},"axis":{"orient":"right","values":[1.5505,1.547,1.5435,1.54,1.5365,1.533,1.5295,1.526,1.5225,1.519,1.5155,1.512,1.5085,1.505,1.5015],"labelExpr":"abs(datum.value-1.5085)<0.00001?'':format(datum.value,'.4f')","grid":true,"domain":false,"tickSize":4,"labelPadding":2,"labelOverlap":false,"labelBound":false}}},
"layer":[
{"data":{"name":"cloud"},"transform":[{"filter":"datum.a>=datum.b"}],"mark":{"type":"rule","color":"#f4a460","strokeWidth":1,"strokeDash":[3,3],"xOffset":0.5},"encoding":{"y":{"field":"a"},"y2":{"field":"b"}}},
{"data":{"name":"cloud"},"transform":[{"filter":"datum.a<datum.b"}],"mark":{"type":"rule","color":"#d8bfd8","strokeWidth":1,"strokeDash":[3,3],"xOffset":0.5},"encoding":{"y":{"field":"a"},"y2":{"field":"b"}}},
{"data":{"name":"cloud"},"mark":{"type":"line","color":"#f4a460","strokeWidth":1,"strokeDash":[3,3]},"encoding":{"y":{"field":"a"}}},
{"data":{"name":"cloud"},"mark":{"type":"line","color":"#d8bfd8","strokeWidth":1,"strokeDash":[3,3]},"encoding":{"y":{"field":"b"}}},
{"data":{"values":[{"price":1.5083}]},"mark":{"type":"rule","color":"#778899","strokeWidth":1},"encoding":{"x":{"value":0},"x2":{"value":1452}}},
{"data":{"values":[{"level":"R3","bar":86,"bar2":181.375,"price":1.5477},{"level":"R2","bar":86,"bar2":181.375,"price":1.5406},{"level":"R1","bar":86,"bar2":181.375,"price":1.5296}]},"mark":{"type":"rule","color":"#ff4500","strokeWidth":1,"strokeDash":[17,7]},"encoding":{"x2":{"field":"bar2"}}},
{"data":{"values":[{"level":"S1","bar":86,"bar2":181.375,"price":1.5115},{"level":"S2","bar":86,"bar2":181.375,"price":1.5044}]},"mark":{"type":"rule","color":"#c8988c","strokeWidth":1,"strokeDash":[17,7]},"encoding":{"x2":{"field":"bar2"}}},
{"data":{"values":[{"level":"P","bar":86,"bar2":181.375,"price":1.5225}]},"mark":{"type":"rule","color":"#ffb000","strokeWidth":1},"encoding":{"x2":{"field":"bar2"}}},
{"data":{"name":"candles"},"mark":{"type":"rule","color":"#00ff00","strokeWidth":1,"xOffset":0.5},"encoding":{"y":{"field":"high"},"y2":{"field":"low"}}},
{"data":{"name":"candles"},"mark":{"type":"bar","size":4,"stroke":"#00ff00","strokeWidth":1,"xOffset":0.5},"encoding":{"y":{"field":"open"},"y2":{"field":"close"},"fill":{"condition":{"test":"datum.close<datum.open","value":"#ffffff"},"value":"#000000"}}},
{"data":{"name":"chikou"},"mark":{"type":"line","color":"#00ff00","strokeWidth":1,"clip":true}},
{"data":{"name":"tenkan"},"mark":{"type":"line","color":"#ff0000","strokeWidth":1,"clip":true}},
{"data":{"name":"kijun"},"mark":{"type":"line","color":"#0000ff","strokeWidth":1,"clip":true}},
{"data":{"name":"upper"},"mark":{"type":"line","color":"#ffff00","strokeWidth":2.2,"clip":true}},
{"data":{"name":"middle"},"mark":{"type":"line","color":"#ffff00","strokeWidth":2.2,"clip":true}},
{"data":{"name":"lower"},"mark":{"type":"line","color":"#ffff00","strokeWidth":2.2,"clip":true}},
{"data":{"values":[{"bar":115,"price":1.50809},{"bar":120.875,"price":1.50435},{"bar":126.125,"price":1.5077}]},"mark":{"type":"line","color":"#0000f0","strokeWidth":2.5}},
{"data":{"values":[{"label":"R3 1.5477","bar":116.6,"price":1.54706},{"label":"R2 1.5406","bar":116.6,"price":1.53987},{"label":"R1 1.5296","bar":116.6,"price":1.52895},{"label":"P 1.5225","bar":117.1,"price":1.52177},{"label":"S1 1.5115","bar":116.6,"price":1.51075},{"label":"S2 1.5044","bar":116.6,"price":1.50366}]},"mark":{"type":"text","align":"left","baseline":"middle","font":"DejaVu Sans Mono","fontSize":13,"color":"#e4e4e4"},"encoding":{"text":{"field":"label"}}},
{"data":{"values":[{"label":"Возможные варианты движения цены","bar":148.6,"price":1.5506}]},"mark":{"type":"text","align":"center","baseline":"middle","font":"DejaVu Sans","fontSize":18.4,"color":"#ff0000"},"encoding":{"text":{"field":"label"}}},
{"data":{"values":[{"label":"Possible price movement","bar":147.75,"price":1.54824}]},"mark":{"type":"text","align":"center","baseline":"middle","font":"DejaVu Sans","fontSize":19.2,"color":"#ff0000"},"encoding":{"text":{"field":"label"}}},
{"data":{"values":[{"label":"GBPUSD,H4\u00a0\u00a01.5088 1.5088 1.5082 1.5083","bar":1.875,"price":1.5514}]},"mark":{"type":"text","align":"left","baseline":"middle","font":"Roboto","fontSize":9.6,"color":"#d8e8f4"},"encoding":{"text":{"field":"label"}}},
{"data":{"values":[{"bar":0.875,"price":1.5513}]},"mark":{"type":"point","shape":"triangle-down","filled":true,"size":35,"color":"#ffffff","opacity":1}},
{"data":{"values":[{"bar":181.6,"bar2":186.1,"price":1.50885,"price2":1.50775}]},"mark":{"type":"rect","fill":"#ffffff","clip":false},"encoding":{"x2":{"field":"bar2"},"y2":{"field":"price2"}}},
{"data":{"values":[{"label":"1.5083","bar":183.85,"price":1.5083}]},"mark":{"type":"text","align":"center","baseline":"middle","font":"Roboto","fontSize":9.5,"color":"#000000"},"encoding":{"text":{"field":"label"}}}
]},
{"width":1452,"height":201,
"encoding":{
"x":{"field":"bar","type":"quantitative","scale":{"domain":[-0.125,181.375],"nice":false,"zero":false,"padding":0},"axis":{"values":[0,4,8,12,16,20,24,28,32,36,40,44,48,52,56,60,64,68,72,76,80,84,88,92,96,100,104,108,112,116,120,124,128,132,136,140,144,148,152,156,160,164,168,172,176,180],"labelExpr":"datum.value%8==0 && datum.value<=112 ? ['2 Nov 2015','3 Nov 16:00','5 Nov 00:00','6 Nov 08:00','9 Nov 16:00','11 Nov 00:00','12 Nov 08:00','13 Nov 16:00','17 Nov 00:00','18 Nov 08:00','19 Nov 16:00','23 Nov 00:00','24 Nov 08:00','25 Nov 16:00','27 Nov 00:00'][datum.value/8] : ''","labelAlign":"left","labelPadding":1,"labelOverlap":false,"labelBound":false,"labelFlush":false,"tickSize":4,"tickOpacity":{"condition":{"test":"datum.value%8==0 && datum.value<=112","value":1},"value":0},"grid":true,"domain":true}},
"y":{"field":"macd","type":"quantitative","scale":{"domain":[-0.02049,0.00933],"nice":false,"zero":false,"padding":0},"axis":{"orient":"right","values":[0.00933,0,-0.02049],"labelExpr":"datum.value==0?'0.00':(datum.value<0?'-':'')+format(abs(datum.value),'.5f')","labelFontSize":8.5,"labelBaseline":{"condition":[{"test":"datum.value>0","value":"top"},{"test":"datum.value<0","value":"bottom"}],"value":"middle"},"grid":false,"domain":false,"tickSize":4,"labelPadding":2,"labelOverlap":false,"labelBound":false}}},
"layer":[
{"data":{"values":[{"macd":0}]},"mark":{"type":"rule","color":"#778899","strokeWidth":1,"strokeDash":[3,3]},"encoding":{"x":{"value":0},"x2":{"value":1452}}},
{"data":{"name":"macd"},"mark":{"type":"bar","size":3,"color":"#c0c0c0","xOffset":0.5},"encoding":{"y2":{"datum":0}}},
{"data":{"name":"signal"},"mark":{"type":"line","color":"#ff0000","strokeWidth":1}},
{"data":{"values":[{"label":"MACD(5,34,5) -0.00397 -0.00372","bar":0.625,"macd":0.00815}]},"mark":{"type":"text","align":"left","baseline":"middle","font":"Roboto","fontSize":9.5,"color":"#d8e8f4"},"encoding":{"text":{"field":"label"}}},
{"data":{"values":[{"bar":1.75,"bar2":29.875,"macd":-0.01559,"macd2":-0.02108}]},"mark":{"type":"rect","fill":"#b03535","opacity":0.88,"clip":false},"encoding":{"x2":{"field":"bar2"},"y2":{"field":"macd2"}}},
{"data":{"values":[{"label":"www.instaforex","bar":5.25,"macd":-0.01856}]},"mark":{"type":"text","align":"left","baseline":"middle","font":"Liberation Sans","fontSize":22,"color":"#ffffff"},"encoding":{"text":{"field":"label"}}},
{"data":{"values":[{"label":"com","bar":23.75,"macd":-0.01885}]},"mark":{"type":"text","align":"left","baseline":"middle","font":"Liberation Sans","fontSize":16,"color":"#ffffff"},"encoding":{"text":{"field":"label"}}},
{"data":{"values":[{"label":"[","bar":3.3,"macd":-0.0185}]},"mark":{"type":"text","align":"left","baseline":"middle","font":"Liberation Sans","fontSize":22,"color":"#ffffff"},"encoding":{"text":{"field":"label"}}},
{"data":{"values":[{"label":"]","bar":28.1,"macd":-0.0188}]},"mark":{"type":"text","align":"left","baseline":"middle","font":"Liberation Sans","fontSize":15,"color":"#ffffff"},"encoding":{"text":{"field":"label"}}}
]}
]}
